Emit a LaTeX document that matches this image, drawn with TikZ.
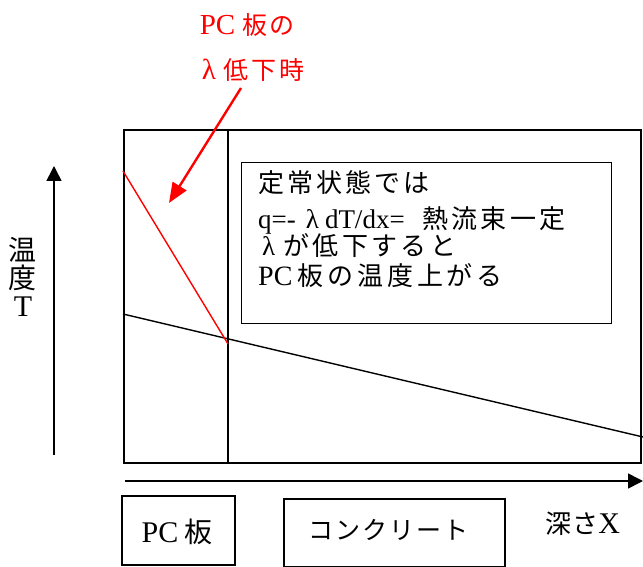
\documentclass[tikz,border=0pt]{standalone}
\usepackage{fontspec}
\setmainfont{Liberation Serif}
\newfontfamily\cjkfont{Noto Sans CJK JP}
\newcommand\cj[3]{{\cjkfont\fontsize{#1}{#1}\selectfont\addfontfeature{LetterSpace=#2}#3}}
\newcommand\lt[2]{{\fontsize{#1}{#1}\selectfont #2}}
\usetikzlibrary{arrows.meta}
\definecolor{myred}{RGB}{255,0,0}
\tikzset{
  frame/.style={draw=black, line width=1.6pt, inner sep=0pt, anchor=north west},
  txt/.style={inner sep=0pt, anchor=base west},
  lbl/.style={inner sep=0pt, anchor=center},
  axis/.style={line width=1.6pt, -{Triangle[length=15pt, width=15pt]}},
  redarrow/.style={draw=myred, line width=2.4pt, -{Triangle[length=20pt, width=16pt]}},
}
\begin{document}
\begin{tikzpicture}[x=1pt, y=-1pt]
\useasboundingbox (0,0) rectangle (643,567);
% main plot frame
\node[frame, minimum width=517pt, minimum height=333pt] (plot) at (123,129) {};
\coordinate (d1) at (228,129);
\coordinate (d2) at (228,462);
\draw[line width=1.6pt] (d1) -- (d2);
% temperature lines
\coordinate (b1) at (123,314);
\coordinate (b2) at (643,437);
\draw[line width=1.4pt] (b1) -- (b2);
\coordinate (r1) at (123,171);
\coordinate (r2) at (228,344);
\draw[myred, line width=1.4pt] (r1) -- (r2);
% text box
\node[frame, line width=1.3pt, minimum width=370pt, minimum height=161pt] (tbox) at (241,162) {};
\node[txt] (t1) at (258,193) {\cj{26}{12}{定常状態では}};
\node[txt] (t2) at (258,228) {\lt{27}{q=-\hspace{10pt}λ\hspace{6pt}dT/dx=}\hspace{18pt}\cj{26}{12}{熱流束一定}};
\node[txt] (t3) at (262,255) {\lt{27}{λ}\hspace{8pt}\cj{26}{13}{が低下すると}};
\node[txt] (t4) at (258,285) {\lt{28}{PC}\hspace{5pt}\cj{26}{15}{板の温度上がる}};
% red label and arrow
\node[lbl, text=myred] (rA) at (247,25) {\lt{29}{PC}\hspace{7pt}\cj{25}{8}{板の}};
\node[lbl, text=myred] (rB) at (253,70) {\lt{29}{λ}\hspace{7pt}\cj{25}{12}{低下時}};
\coordinate (ra) at (241,88);
\coordinate (rt) at (169,203);
\draw[redarrow] (ra) -- (rt);
% axes
\coordinate (v1) at (54,455);
\coordinate (v2) at (54,166);
\draw[axis] (v1) -- (v2);
\coordinate (h1) at (125,481);
\coordinate (h2) at (643,481);
\draw[axis] (h1) -- (h2);
\node[lbl] (yl1) at (23,250) {\cj{28}{0}{温}};
\node[lbl] (yl2) at (23,278) {\cj{28}{0}{度}};
\node[lbl] (yl3) at (23,307) {\lt{30}{T}};
\node[lbl] (xl) at (583,524) {\cj{26}{2}{深さ}\lt{30}{X}};
% bottom boxes
\node[frame, minimum width=113pt, minimum height=69pt] (pcbox) at (121,495) {};
\node[lbl] (pct) at (177,532) {\lt{30}{PC}\hspace{6pt}\cj{28}{0}{板}};
\node[frame, minimum width=221pt, minimum height=68pt] (cbox) at (283,498) {};
\node[lbl] (ct) at (388,530) {\cj{25}{8}{コンクリート}};
\end{tikzpicture}
\end{document}
